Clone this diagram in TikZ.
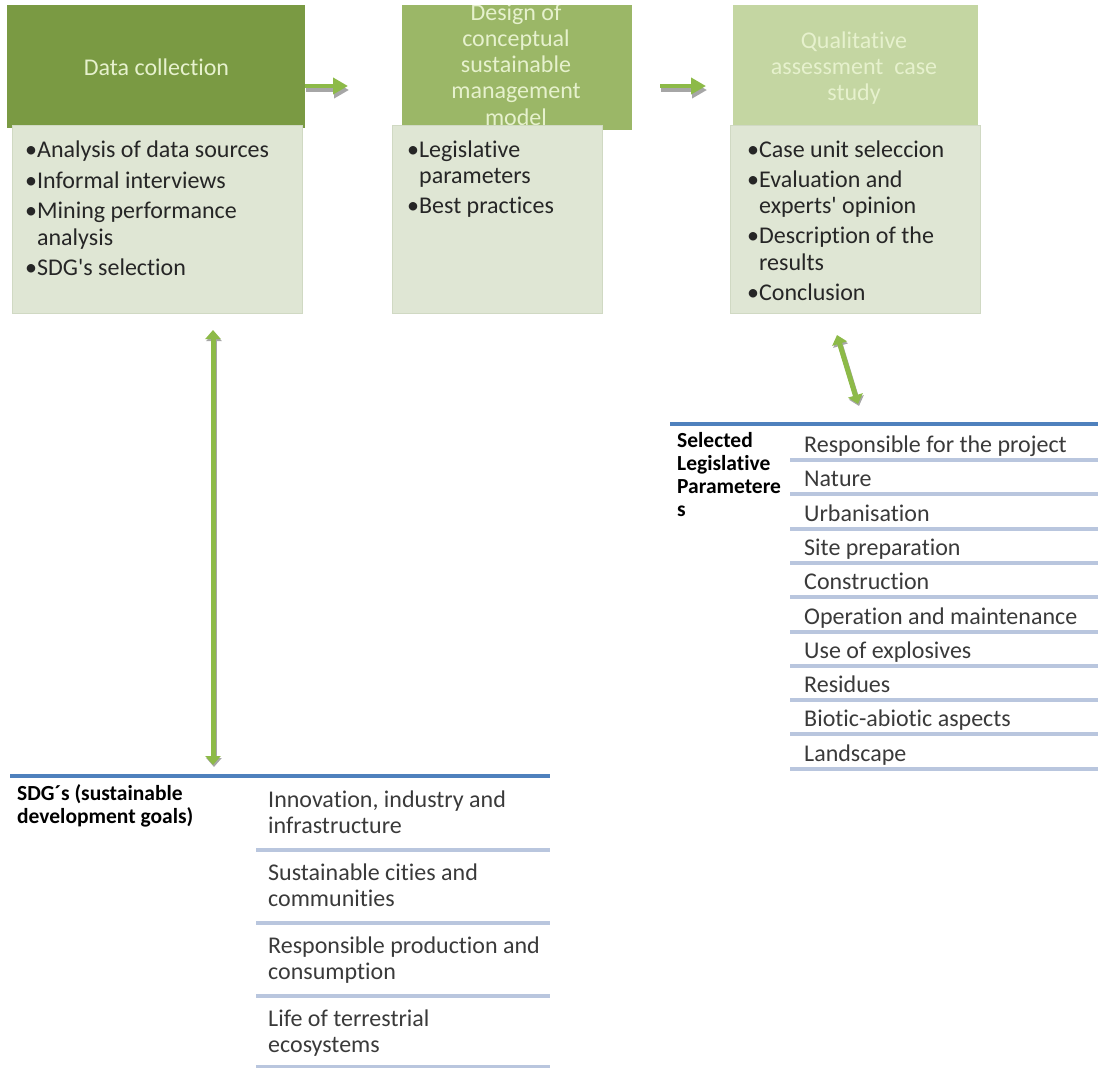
\documentclass[tikz,border=0pt]{standalone}
\usepackage{fontspec}
\setmainfont{Carlito}[Ligatures={NoCommon}]
\usetikzlibrary{arrows.meta}
\definecolor{hdA}{HTML}{7A9A43}
\definecolor{hdB}{HTML}{9BB767}
\definecolor{hdC}{HTML}{C4D6A2}
\definecolor{bodyfill}{HTML}{DFE6D4}
\definecolor{bodyline}{HTML}{D0D9C3}
\definecolor{hdtext}{HTML}{E6F1CD}
\definecolor{arrgreen}{HTML}{8DBA48}
\definecolor{arrshadow}{HTML}{A6A6A6}
\definecolor{topblue}{HTML}{4F81BD}
\definecolor{seprow}{HTML}{B9C6DE}
\definecolor{itemtext}{HTML}{3A3A3A}
\definecolor{bodytext}{HTML}{262626}
\begin{document}
\begin{tikzpicture}[x=1pt,y=-1pt,
  hdrbox/.style={inner sep=0pt, anchor=north west, draw=none},
  bodybox/.style={inner sep=0pt, anchor=north west, fill=bodyfill, draw=bodyline, line width=1pt},
  hdtxt/.style={inner sep=0pt, anchor=base, text=hdtext, font=\fontsize{24}{26}\selectfont},
  btxt/.style={inner sep=0pt, anchor=base west, text=bodytext, font=\fontsize{24}{26}\selectfont},
  itxt/.style={inner sep=0pt, anchor=base west, text=itemtext, font=\fontsize{24}{26}\selectfont},
  lbltxt/.style={inner sep=0pt, anchor=base west, text=black, font=\fontsize{21.5}{23}\selectfont\bfseries},
  fatarrow/.style={line width=4pt, -{Triangle[length=15pt,width=16pt]}},
  dblarrow/.style={line width=5pt, arrgreen, {Triangle[length=9pt,width=15pt]}-{Triangle[length=9pt,width=15pt]}},
  dblshadow/.style={line width=5pt, arrshadow, {Triangle[length=9pt,width=15pt]}-{Triangle[length=9pt,width=15pt]}}
]
\useasboundingbox (0,0) rectangle (1103,1068);

% ---------- headers ----------
\node[hdrbox, fill=hdA, minimum width=298pt, minimum height=123pt] (h1) at (7,5) {};
\node[hdrbox, fill=hdB, minimum width=230pt, minimum height=125pt] (h2) at (402,5) {};
\node[hdrbox, fill=hdC, minimum width=245pt, minimum height=120pt] (h3) at (733,5) {};

\node[hdtxt] (h1t) at (156.5,75) {Data collection};

\begin{scope}
\clip (402,5) rectangle (632,130);
\node[hdtxt] (h2a) at (516,20) {Design of};
\node[hdtxt] (h2b) at (516,46) {conceptual};
\node[hdtxt] (h2c) at (516,72) {sustainable};
\node[hdtxt] (h2d) at (516,98) {management};
\node[hdtxt] (h2e) at (516,125) {model};
\end{scope}

\node[hdtxt] (h3a) at (854,48) {Qualitative};
\node[hdtxt] (h3b) at (854,74) {assessment\ \ case};
\node[hdtxt] (h3c) at (854,100) {study};

% ---------- bodies ----------
\node[bodybox, minimum width=290pt, minimum height=188pt] (b1) at (12,125) {};
\node[bodybox, minimum width=210pt, minimum height=188pt] (b2) at (392,125) {};
\node[bodybox, minimum width=250pt, minimum height=188pt] (b3) at (730,125) {};

\node[btxt] (b1a) at (25,157.5) {•Analysis of data sources};
\node[btxt] (b1b) at (25,188.5) {•Informal interviews};
\node[btxt] (b1c) at (25,218.5) {•Mining performance};
\node[btxt] (b1d) at (25,245.5) {\hphantom{•}analysis};
\node[btxt] (b1e) at (25,275.5) {•SDG\textquotesingle s selection};

\node[btxt] (b2a) at (407,157.5) {•Legislative};
\node[btxt] (b2b) at (407,183.5) {\hphantom{•}parameters};
\node[btxt] (b2c) at (407,213.5) {•Best practices};

\node[btxt] (b3a) at (747,157.5) {•Case unit seleccion};
\node[btxt] (b3b) at (747,187.5) {•Evaluation and};
\node[btxt] (b3c) at (747,213.5) {\hphantom{•}experts\textquotesingle\ opinion};
\node[btxt] (b3d) at (747,243.5) {•Description of the};
\node[btxt] (b3e) at (747,270.5) {\hphantom{•}results};
\node[btxt] (b3f) at (747,300.5) {•Conclusion};

% ---------- horizontal arrows ----------
\coordinate (a1s) at (305,86);
\coordinate (a1e) at (348,86);
\coordinate (a2s) at (660,86);
\coordinate (a2e) at (706,86);
\draw[fatarrow, arrshadow] ([shift={(1,4)}]a1s) -- ([shift={(1,4)}]a1e);
\draw[fatarrow, arrgreen] (a1s) -- (a1e);
\draw[fatarrow, arrshadow] ([shift={(1,4)}]a2s) -- ([shift={(1,4)}]a2e);
\draw[fatarrow, arrgreen] (a2s) -- (a2e);

% ---------- double arrows ----------
\coordinate (v1) at (213,330);
\coordinate (v2) at (213,765);
\draw[dblshadow] ([shift={(1,2)}]v1) -- ([shift={(1,2)}]v2);
\draw[dblarrow] (v1) -- (v2);

\coordinate (d1) at (837,335);
\coordinate (d2) at (858,404);
\draw[dblshadow] ([shift={(1,2)}]d1) -- ([shift={(1,2)}]d2);
\draw[dblarrow] (d1) -- (d2);

% ---------- legislative table ----------
\draw[topblue, line width=4pt] (670,424) -- (1098,424);
\foreach \i in {0,...,9}
  \draw[seprow, line width=4pt] (790,{460+34.3*\i}) -- (1098,{460+34.3*\i});
\node[lbltxt] (lp1) at (677,447) {Selected};
\node[lbltxt] (lp2) at (677,470) {Legislative};
\node[lbltxt] (lp3) at (677,493) {Parametere};
\node[lbltxt] (lp4) at (677,516) {s};
\foreach \t [count=\i] in {Responsible for the project, Nature, Urbanisation, Site preparation, Construction, Operation and maintenance, Use of explosives, Residues, Biotic-abiotic aspects, Landscape}
  \node[itxt] (li\i) at (804,{452.5+34.3*(\i-1)}) {\t};

% ---------- SDG table ----------
\draw[topblue, line width=4pt] (10,776) -- (550,776);
\foreach \y in {850,923,996}
  \draw[seprow, line width=4pt] (256,\y) -- (550,\y);
\draw[seprow, line width=2.5pt] (256,1066.5) -- (550,1066.5);
\node[lbltxt] (sl1) at (17,800) {SDG´s (sustainable};
\node[lbltxt] (sl2) at (17,823) {development goals)};
\node[itxt] (s1a) at (268,807) {Innovation, industry and};
\node[itxt] (s1b) at (268,833) {infrastructure};
\node[itxt] (s2a) at (268,880) {Sustainable cities and};
\node[itxt] (s2b) at (268,906) {communities};
\node[itxt] (s3a) at (268,953) {Responsible production and};
\node[itxt] (s3b) at (268,979) {consumption};
\node[itxt] (s4a) at (268,1026) {Life of terrestrial};
\node[itxt] (s4b) at (268,1052) {ecosystems};
\end{tikzpicture}
\end{document}
